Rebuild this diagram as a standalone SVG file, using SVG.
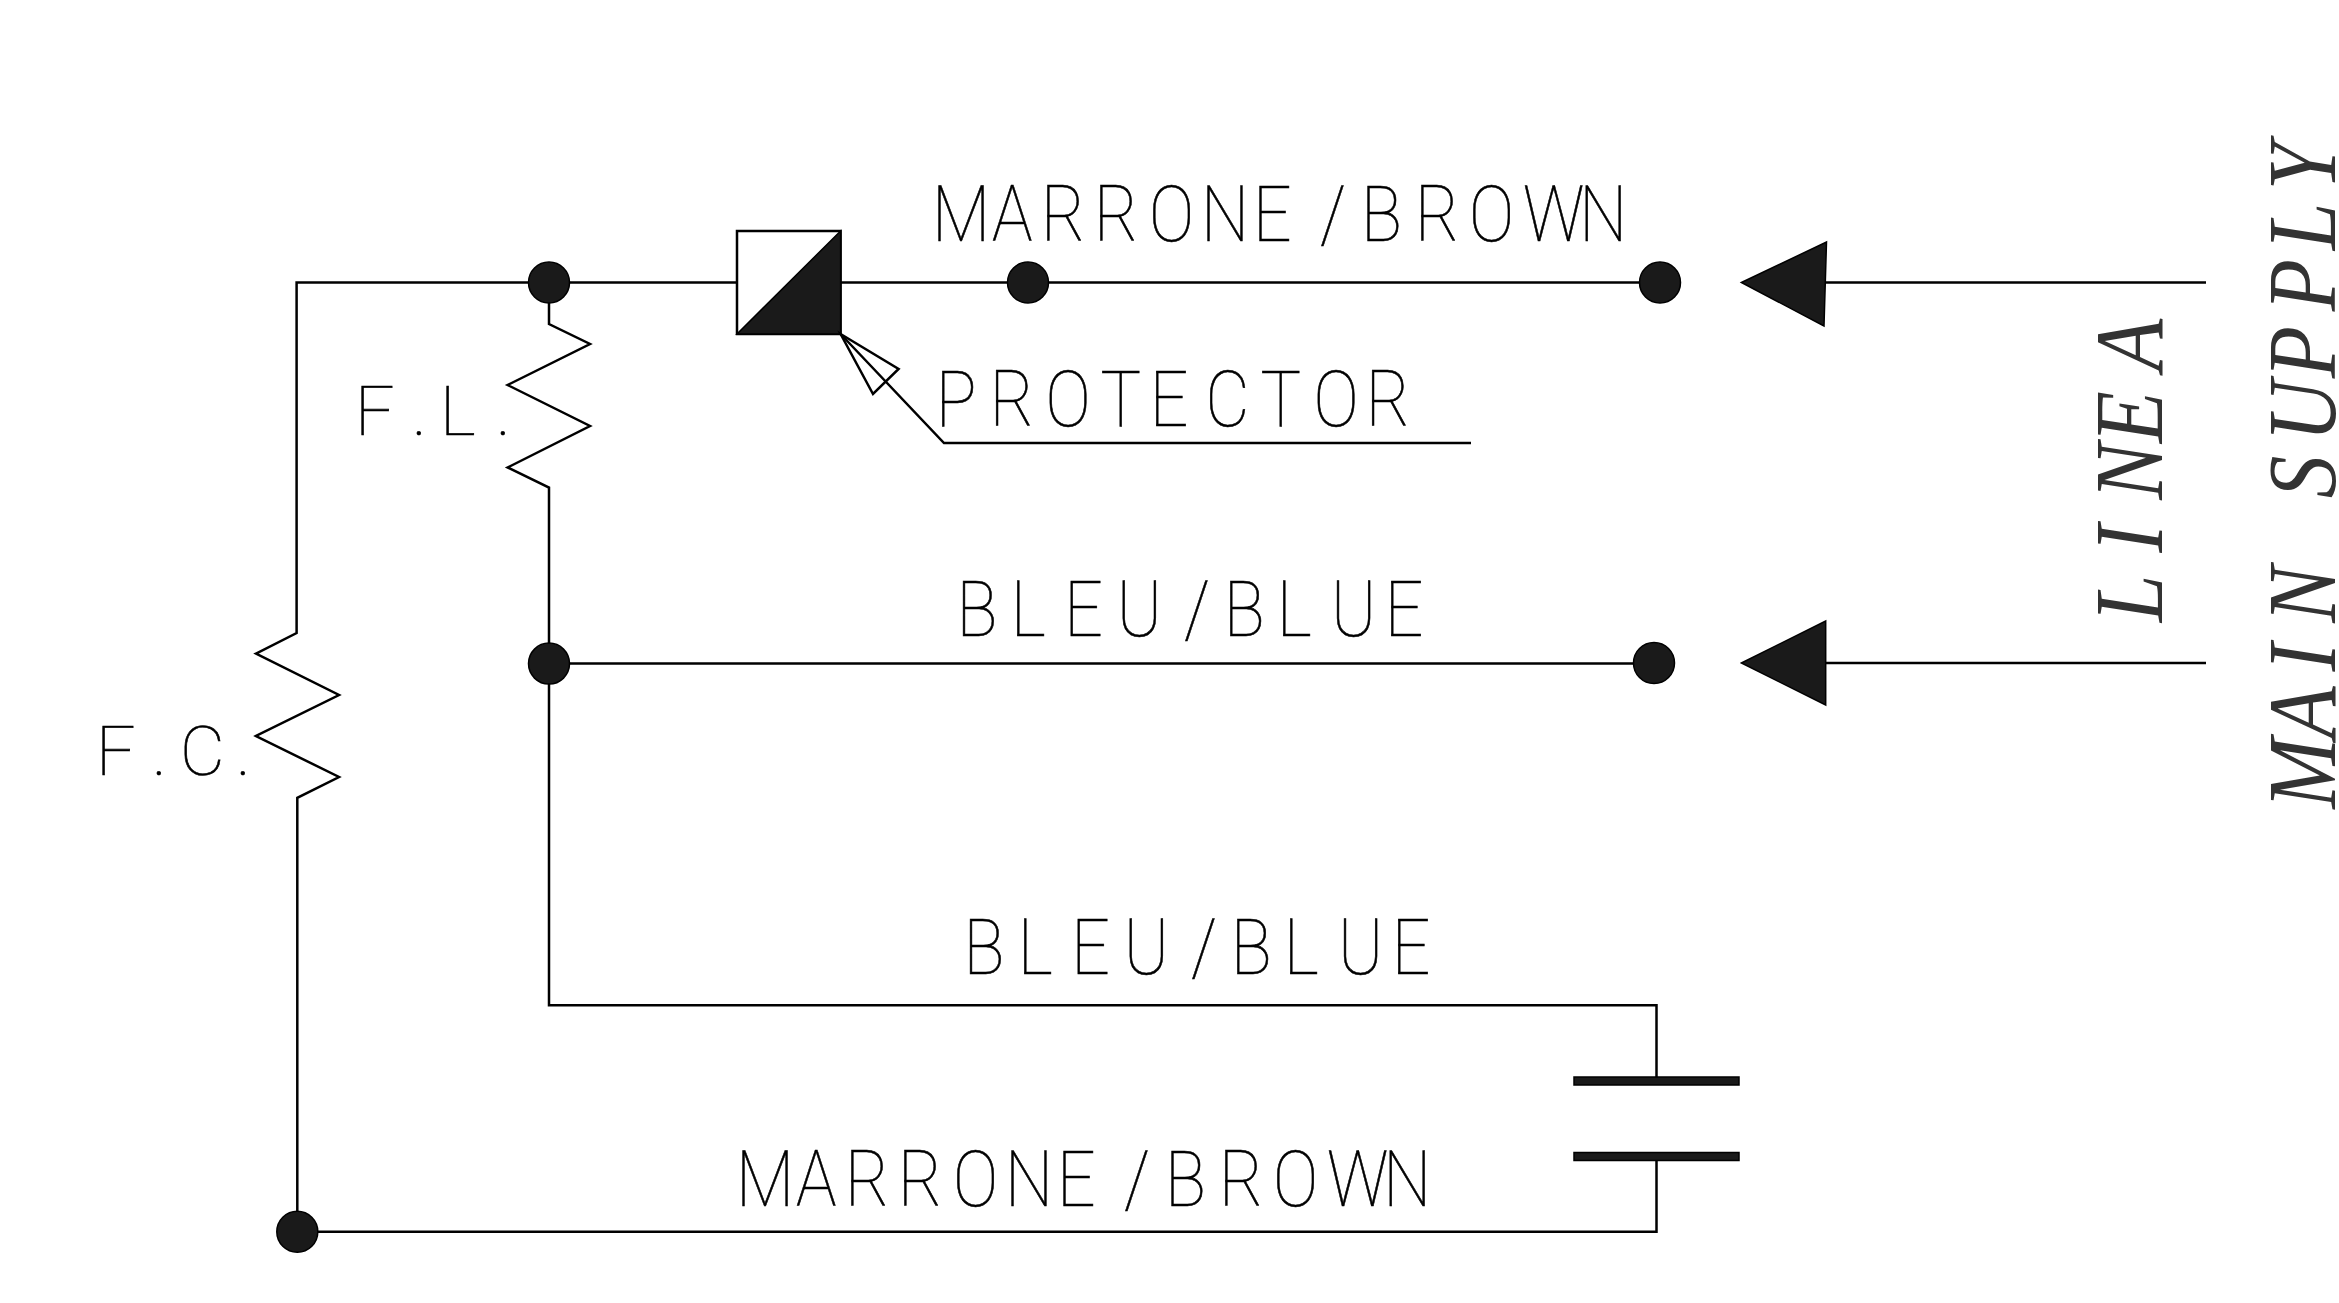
<svg xmlns="http://www.w3.org/2000/svg" width="2339" height="1303" viewBox="0 0 2339 1303">
<style>
.w{fill:none;stroke:#000;stroke-width:2.5;stroke-linejoin:miter}
.d{fill:#1a1a1a;stroke:#000;stroke-width:1.5}
.t{font-family:Roboto,"Liberation Sans",sans-serif;font-weight:100;font-size:77px;fill:#000;stroke:#000;stroke-width:.6}
.s{font-size:69px}
.r{font-family:"Liberation Serif",serif;font-style:italic;font-size:98px;fill:#333}
</style>
<rect width="2339" height="1303" fill="#fff"/>
<g id="connectors">
<path class="w" d="M840.6 282.5H1660"/>
<path class="w" d="M737 282.5H296.6V633L256 653.6 339 695 256 736 339 777 297.3 797.8V1231.7H1656.5V1161"/>
<path class="w" d="M549 282.5V324L590 344 507.6 385 590 426 507.6 467.5 549 487.5V1005.3H1656.5V1077"/>
<path class="w" d="M549 663.6H1654"/>
<path class="w" d="M1825 282.5H2206M1825 663H2206"/>
<path class="w" d="M840.6 334L944 443H1471"/>
</g>
<g id="junction-1"><circle class="d" cx="549" cy="282.5" r="20.5"/></g>
<g id="junction-2"><circle class="d" cx="1028" cy="282.5" r="20.5"/></g>
<g id="junction-3"><circle class="d" cx="1660" cy="282.5" r="20.5"/></g>
<g id="junction-4"><circle class="d" cx="549" cy="663.6" r="20.5"/></g>
<g id="junction-5"><circle class="d" cx="1654" cy="663" r="20.5"/></g>
<g id="junction-6"><circle class="d" cx="297.3" cy="1231.7" r="20.5"/></g>
<g id="protector">
<rect class="w" x="737" y="231" width="103.6" height="103"/>
<path class="d" d="M840.6 231V334H737Z"/>
<path class="w" d="M840.6 334L898.6 369 873 394Z"/>
<text class="t" transform="translate(0 425.7) scale(.88 1)" x="1063.4 1124.8 1188.2 1250.6 1306.6 1370 1432.4 1492.7 1552" y="0">PROTECTOR</text>
</g>
<g id="arrow-top"><path class="d" d="M1741.4 282.5L1826.5 242 1824 326Z"/></g>
<g id="arrow-bottom"><path class="d" d="M1741.4 663L1825.7 621V705Z"/></g>
<g id="capacitor">
<rect class="d" x="1574" y="1077" width="165" height="8"/>
<rect class="d" x="1574" y="1152.5" width="165" height="8"/>
</g>
<g id="labels">
<text class="t" transform="translate(196 241) scale(.88 1)" x="836.4 904.5 960.2 1020.5 1083 1142 1201 1277.3 1323.9 1385.2 1446.6 1508 1572" y="0">MARRONE/BROWN</text>
<text class="t" transform="translate(-7 635.7) scale(.88 1)" x="1095 1156.6 1217.4 1277 1353.4 1398.6 1458.9 1520.5 1581.6" y="0">BLEU/BLUE</text>
<text class="t" transform="translate(0 974) scale(.88 1)" x="1095 1156.6 1217.4 1277 1353.4 1398.6 1458.9 1520.5 1581.6" y="0">BLEU/BLUE</text>
<text class="t" transform="translate(0 1206) scale(.88 1)" x="836.4 904.5 960.2 1020.5 1083 1142 1201 1277.3 1323.9 1385.2 1446.6 1508 1572" y="0">MARRONE/BROWN</text>
<text class="t s" x="355 412 440 496" y="434.6">F.L.</text>
<text class="t s" x="96 152 180 236" y="775.4">F.C.</text>
<text class="r" transform="translate(2162 621.5) rotate(-90) scale(.87 1)" x="-1 79 140 205 288" y="0">LINEA</text>
<text class="r" transform="translate(2334.5 808) rotate(-90) scale(.87 1)" x="-1 80 157 213 290 356 421 494 571 641 710" y="0">MAIN SUPPLY</text>
</g>
</svg>
